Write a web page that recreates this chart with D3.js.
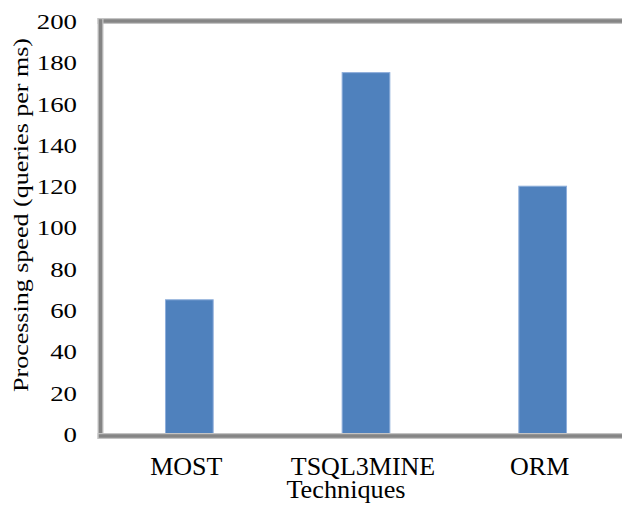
<!DOCTYPE html>
<html>
<head>
<meta charset="utf-8">
<script src="https://cdn.jsdelivr.net/npm/d3@7"></script>
<style>
  html, body { margin: 0; padding: 0; background: #fff; }
  svg { display: block; }
  text { font-family: "Liberation Serif", "Times New Roman", serif; fill: #000; }
</style>
</head>
<body>
<div id="chart"></div>
<script>
// Processing speed per technique
const categories = ["MOST", "TSQL3MINE", "ORM"];
const speeds = [65, 175, 120];
const yTicks = [0, 20, 40, 60, 80, 100, 120, 140, 160, 180, 200];
const yTitle = "Processing speed (queries per ms)";
const xTitle = "Techniques";

const W = 622, H = 508;
const svg = d3.select("#chart").append("svg")
  .attr("width", W).attr("height", H);

// plot area extends past the right edge of the canvas
const plot = { left: 101, right: 631, top: 21, bottom: 434 };

const x = d3.scaleBand()
  .domain(categories)
  .range([plot.left, plot.right])
  .paddingInner(0.73)
  .paddingOuter(0.365);

const y = d3.scaleLinear()
  .domain([0, 200])
  .range([plot.bottom, plot.top]);

// widen a text element along its writing direction
function stretch(sel, factor) {
  sel.each(function () {
    const len = this.getComputedTextLength();
    d3.select(this)
      .attr("textLength", len * factor)
      .attr("lengthAdjust", "spacingAndGlyphs");
  });
}

// bars
svg.append("g").selectAll("rect")
  .data(categories.map((c, i) => ({ c, v: speeds[i] })))
  .join("rect")
  .attr("x", d => x(d.c))
  .attr("y", d => y(d.v))
  .attr("width", x.bandwidth())
  .attr("height", d => y(0) - y(d.v))
  .attr("fill", "#4f81bd")
  .attr("stroke", "#8eaedb")
  .attr("stroke-width", 1);

// frame: top, left and bottom rules drawn as a soft grey double line
function rule(x1, y1, x2, y2) {
  svg.append("line").attr("x1", x1).attr("y1", y1).attr("x2", x2).attr("y2", y2)
    .attr("stroke", "#c4c4c4").attr("stroke-width", 6).attr("stroke-linecap", "square");
  svg.append("line").attr("x1", x1).attr("y1", y1).attr("x2", x2).attr("y2", y2)
    .attr("stroke", "#858585").attr("stroke-width", 3.5).attr("stroke-linecap", "square");
}
rule(100.5, 21, W + 5, 21);
rule(100.5, 21, 100.5, 436);
rule(100.5, 436, W + 5, 436);

// y axis tick labels
const yAxis = d3.axisLeft(y).tickValues(yTicks).tickSize(0).tickPadding(0);
const yg = svg.append("g").attr("transform", "translate(77,0)").call(yAxis);
yg.select(".domain").remove();
yg.selectAll("text")
  .attr("font-family", "'Liberation Serif', 'Times New Roman', serif")
  .attr("font-size", 22)
  .attr("fill", "#000")
  .attr("dy", "0.34em")
  .call(stretch, 1.22);

// x axis category labels
const xAxis = d3.axisBottom(x).tickSize(0).tickPadding(0);
const xg = svg.append("g").attr("transform", "translate(-3,0)").call(xAxis);
xg.select(".domain").remove();
xg.selectAll("text")
  .attr("font-family", "'Liberation Serif', 'Times New Roman', serif")
  .attr("font-size", 25)
  .attr("fill", "#000")
  .attr("y", 475)
  .attr("dy", 0)
  .call(stretch, 1.04);

// axis titles
svg.append("text")
  .attr("x", 346).attr("y", 498)
  .attr("text-anchor", "middle")
  .attr("font-size", 25)
  .text(xTitle)
  .call(stretch, 1.05);

svg.append("text")
  .attr("transform", "translate(28,215) rotate(-90)")
  .attr("text-anchor", "middle")
  .attr("font-size", 22)
  .attr("textLength", 354)
  .attr("lengthAdjust", "spacingAndGlyphs")
  .text(yTitle);
</script>
</body>
</html>
